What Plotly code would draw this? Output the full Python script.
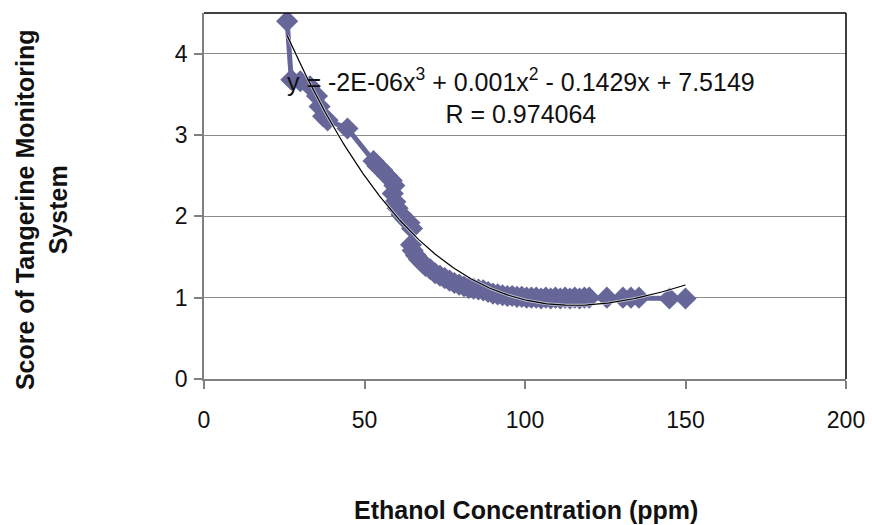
import numpy as np
import plotly.graph_objects as go

# Ethanol concentration (ppm) and monitoring-system score
ethanol_ppm = [25.9, 27.2, 30.0, 33.0, 35.2, 36.0, 37.1, 38.5, 44.7,
               52.8, 54.0, 55.5, 57.0, 58.5, 59.3, 58.8, 59.6, 60.3, 61.5, 62.8, 64.0, 64.8,
               64.5, 65.0, 66.0, 67.0, 68.0, 69.0, 70.5, 72.0, 73.5, 75.0, 76.5, 78.0, 79.5,
               81.0, 82.5, 84.0, 85.5, 87.0, 88.5, 90.0, 91.5, 93.0, 94.5, 96.0, 97.5, 99.0,
               100.5, 102.0, 103.5, 105.0, 106.5, 108.0, 109.5, 111.0, 112.5, 114.0, 115.5,
               117.0, 118.5, 120.0, 125.5, 130.5, 133.0, 135.5, 145.0, 150.0]
score = [4.40, 3.68, 3.66, 3.60, 3.48, 3.35, 3.23, 3.18, 3.08,
         2.68, 2.62, 2.57, 2.50, 2.44, 2.38, 2.28, 2.18, 2.10, 2.02, 1.96, 1.92, 1.85,
         1.65, 1.58, 1.52, 1.47, 1.43, 1.39, 1.35, 1.30, 1.27, 1.24, 1.21, 1.18, 1.16,
         1.14, 1.12, 1.11, 1.10, 1.09, 1.07, 1.05, 1.04, 1.03, 1.02, 1.02, 1.01, 1.01,
         1.00, 1.00, 1.00, 0.99, 1.00, 0.99, 1.00, 0.99, 1.00, 0.99, 1.00,
         0.99, 1.00, 1.00, 1.00, 1.00, 1.00, 1.00, 0.99, 0.99]

x_ticks = [0, 50, 100, 150, 200]
y_ticks = [0, 1, 2, 3, 4]
equation_text = "y = -2E-06x<sup>3</sup> + 0.001x<sup>2</sup> - 0.1429x + 7.5149<br>R = 0.974064"
x_title = "Ethanol Concentration (ppm)"
y_title = "Score of Tangerine Monitoring<br>System"

# polynomial (order 3) trendline fitted to the data, like the spreadsheet trendline
xs = np.array(ethanol_ppm)
ys = np.array(score)
coef = np.polyfit(xs, ys, 3)
tx = np.linspace(xs.min(), xs.max(), 200)
ty = np.polyval(coef, tx)

SERIES = "#666699"
FONT = "Liberation Sans, Arial, sans-serif"

fig = go.Figure()
fig.add_trace(go.Scatter(
    x=ethanol_ppm, y=score, mode="lines+markers",
    line=dict(color=SERIES, width=5),
    marker=dict(symbol="diamond", size=17, color=SERIES, line=dict(width=0)),
    showlegend=False, hoverinfo="x+y"))
fig.add_trace(go.Scatter(
    x=tx, y=ty, mode="lines", line=dict(color="rgba(255,255,255,0.6)", width=3),
    showlegend=False, hoverinfo="skip"))
fig.add_trace(go.Scatter(
    x=tx, y=ty, mode="lines", line=dict(color="black", width=1.2),
    showlegend=False, hoverinfo="skip"))

axis_common = dict(
    showgrid=False, zeroline=False, showline=True, linecolor="#808080", linewidth=1.5,
    ticks="outside", ticklen=8, tickcolor="#808080", tickwidth=1.5,
    tickfont=dict(family=FONT, size=23, color="#111111"))

fig.update_xaxes(range=[0, 200], tickvals=x_ticks, ticklabelstandoff=12, **axis_common)
fig.update_yaxes(range=[0, 4.5], tickvals=y_ticks, ticklabelstandoff=2,
                 showgrid=True, gridcolor="#8c8c8c", gridwidth=1.2,
                 **{k: v for k, v in axis_common.items() if k != "showgrid"})

fig.update_layout(
    width=872, height=525,
    margin=dict(l=204, r=26, t=13, b=146, autoexpand=False),
    paper_bgcolor="white", plot_bgcolor="white",
    font=dict(family=FONT),
    shapes=[
        dict(type="line", xref="paper", yref="paper", x0=0, x1=1, y0=1, y1=1,
             line=dict(color="black", width=1.5)),
        dict(type="line", xref="paper", yref="paper", x0=1, x1=1, y0=0, y1=1,
             line=dict(color="black", width=1.5)),
    ],
    annotations=[
        dict(text=equation_text, xref="paper", yref="paper", x=0.494, y=0.773,
             xanchor="center", yanchor="middle", align="center", showarrow=False,
             font=dict(family=FONT, size=25, color="#111111")),
        dict(text="<b>" + x_title + "</b>", xref="paper", yref="paper", x=0.502, y=-0.358,
             xanchor="center", yanchor="middle", showarrow=False,
             font=dict(family=FONT, size=25, color="#111111")),
        dict(text="<b>" + y_title.replace("<br>", "</b><br><b>") + "</b>", xref="paper", yref="paper",
             x=-0.252, y=0.462, xanchor="center", yanchor="middle", textangle=-90,
             showarrow=False, font=dict(family=FONT, size=25, color="#111111")),
    ],
)

fig.write_html("out.html")
